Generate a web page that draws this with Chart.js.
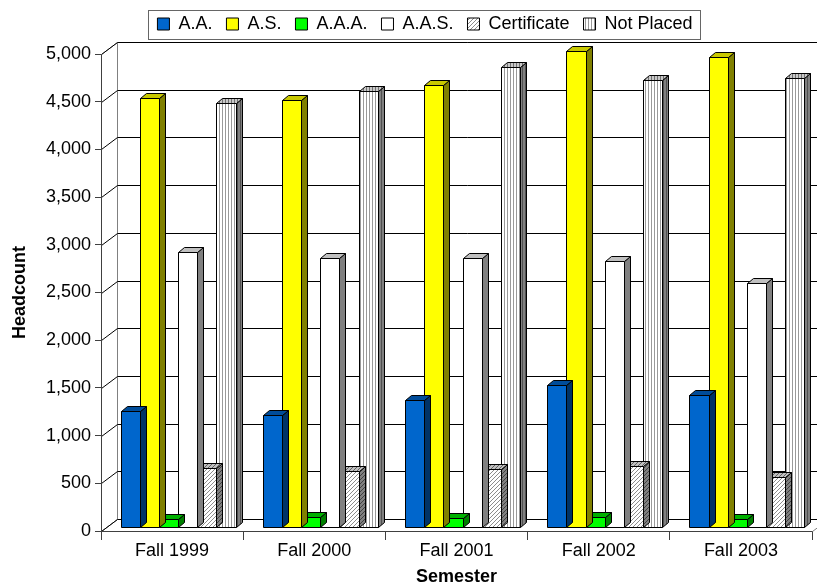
<!DOCTYPE html>
<html>
<head>
<meta charset="utf-8">
<title>Headcount by Semester</title>
<script src="https://cdn.jsdelivr.net/npm/chart.js@4.4.0/dist/chart.umd.min.js"></script>
<style>
  html, body { margin: 0; padding: 0; background: #fff; }
  #wrap { width: 817px; height: 586px; }
</style>
</head>
<body>
<div id="wrap"><canvas id="headcountChart"></canvas></div>
<script>
// data
const semesters = ['Fall 1999', 'Fall 2000', 'Fall 2001', 'Fall 2002', 'Fall 2003'];
const seriesNames = ['A.A.', 'A.S.', 'A.A.A.', 'A.A.S.', 'Certificate', 'Not Placed'];
const aa = [1221, 1176, 1333, 1491, 1379];
const as = [4492, 4474, 4632, 4989, 4929];
const aaa = [87, 102, 95, 102, 81];
const aas = [2887, 2824, 2824, 2789, 2561];
const certificate = [614, 586, 607, 642, 526];
const notPlaced = [4449, 4568, 4824, 4684, 4702];
const yTicks = { min: 0, max: 5000, step: 500 };

// fake 3d geometry (pixels)
const WALL_DX = 16, WALL_DY = -12;   // back wall offset from the front axis
const FACE_DX = 6, FACE_DY = -4;     // where the bar front faces sit
const BAR_DX = 6, BAR_DY = -5;       // bar depth
const LEGEND_CENTER = 425;
const LEGEND_LIFT = 11;

Chart.defaults.font.family = "'Liberation Sans', Arial, sans-serif";
Chart.defaults.color = '#000';

function makePattern(bg, fg, kind) {
  const n = kind === 'diag' ? 4 : 3;
  const c = document.createElement('canvas');
  c.width = n;
  c.height = n;
  const g = c.getContext('2d');
  g.fillStyle = bg;
  g.fillRect(0, 0, n, n);
  g.fillStyle = fg;
  for (let i = 0; i < n; i++) {
    if (kind === 'diag') g.fillRect(i, n - 1 - i, 1, 1);
    else g.fillRect(0, i, 1, 1);
  }
  return g.createPattern(c, 'repeat');
}

const faces = [
  { front: '#0066cc', top: '#004c99', side: '#003366' },
  { front: '#ffff00', top: '#c8c800', side: '#808000' },
  { front: '#00ff00', top: '#00b000', side: '#008000' },
  { front: '#ffffff', top: '#c0c0c0', side: '#808080' },
  {
    front: makePattern('#ffffff', '#8c8c8c', 'diag'),
    top: makePattern('#c0c0c0', '#606060', 'diag'),
    side: makePattern('#808080', '#404040', 'diag')
  },
  {
    front: makePattern('#ffffff', '#999999', 'vert'),
    top: makePattern('#c8c8c8', '#707070', 'vert'),
    side: makePattern('#808080', '#505050', 'vert')
  }
];

function poly(ctx, pts, fill) {
  ctx.beginPath();
  ctx.moveTo(pts[0][0], pts[0][1]);
  for (let i = 1; i < pts.length; i++) ctx.lineTo(pts[i][0], pts[i][1]);
  ctx.closePath();
  if (fill) {
    ctx.fillStyle = fill;
    ctx.fill();
  }
  ctx.stroke();
}

function line(ctx, x1, y1, x2, y2) {
  ctx.beginPath();
  ctx.moveTo(x1, y1);
  ctx.lineTo(x2, y2);
  ctx.stroke();
}

const px = v => Math.round(v) + 0.5;

const fake3d = {
  id: 'fake3d',
  afterLayout(chart) {
    // legend in the original sits right of centre and close to the top
    const lg = chart.legend;
    if (!lg) return;
    const dx = LEGEND_CENTER - (lg.left + lg.right) / 2;
    lg.left += dx;
    lg.right += dx;
    lg.top -= LEGEND_LIFT;
    lg.bottom -= LEGEND_LIFT;
  },
  beforeDatasetsDraw(chart) {
    const { ctx, chartArea } = chart;
    const ys = chart.scales.y;
    const l = px(chartArea.left), r = px(chartArea.right);
    const t = px(chartArea.top), b = px(chartArea.bottom);
    ctx.save();
    ctx.lineWidth = 1;
    ctx.strokeStyle = '#808080';
    // side wall, back wall, floor
    poly(ctx, [[l, b], [l + WALL_DX, b + WALL_DY], [l + WALL_DX, t + WALL_DY], [l, t]], '#fff');
    poly(ctx, [[l + WALL_DX, t + WALL_DY], [r + WALL_DX, t + WALL_DY], [r + WALL_DX, b + WALL_DY], [l + WALL_DX, b + WALL_DY]], '#fff');
    poly(ctx, [[l, b], [r, b], [r + WALL_DX, b + WALL_DY], [l + WALL_DX, b + WALL_DY]], '#fff');
    // gridlines on the walls
    ctx.strokeStyle = '#000';
    ys.ticks.forEach(tk => {
      const y = px(ys.getPixelForValue(tk.value));
      line(ctx, l, y, l + WALL_DX, y + WALL_DY);
      line(ctx, l + WALL_DX, y + WALL_DY, r + WALL_DX, y + WALL_DY);
    });
    // front axis lines
    ctx.strokeStyle = '#404040';
    line(ctx, l, t, l, b);
    line(ctx, l, b, r, b);
    ctx.restore();
  },
  beforeDatasetDraw(chart, args) {
    const { ctx } = chart;
    const style = faces[args.index];
    ctx.save();
    ctx.lineWidth = 1;
    ctx.strokeStyle = '#000';
    args.meta.data.forEach(bar => {
      const { x, y, base, width } = bar.getProps(['x', 'y', 'base', 'width'], true);
      const L = px(x - width / 2 + FACE_DX);
      const R = px(x + width / 2 + FACE_DX);
      const T = px(y + FACE_DY);
      const B = px(base + FACE_DY);
      poly(ctx, [[R, T], [R + BAR_DX, T + BAR_DY], [R + BAR_DX, B + BAR_DY], [R, B]], style.side);
      poly(ctx, [[L, T], [R, T], [R + BAR_DX, T + BAR_DY], [L + BAR_DX, T + BAR_DY]], style.top);
      poly(ctx, [[L, T], [R, T], [R, B], [L, B]], style.front);
    });
    ctx.restore();
    return false;
  },
  afterDraw(chart) {
    const lg = chart.legend;
    if (!lg || !lg.legendHitBoxes.length) return;
    const hb = lg.legendHitBoxes;
    const first = hb[0], last = hb[hb.length - 1];
    const { ctx } = chart;
    ctx.save();
    ctx.strokeStyle = '#666';
    ctx.lineWidth = 1;
    ctx.strokeRect(px(first.left - 9), px(first.top - 5), Math.round(last.left + last.width - first.left + 17), Math.round(first.height + 11));
    ctx.restore();
  }
};

const seriesValues = [aa, as, aaa, aas, certificate, notPlaced];

new Chart(document.getElementById('headcountChart'), {
  type: 'bar',
  data: {
    labels: semesters,
    datasets: seriesNames.map((name, i) => ({
      label: name,
      data: seriesValues[i],
      backgroundColor: faces[i].front,
      borderColor: '#000',
      borderWidth: 1
    }))
  },
  options: {
    responsive: true,
    maintainAspectRatio: false,
    animation: false,
    layout: { padding: { top: 12, right: 5, left: 0, bottom: 0 } },
    datasets: { bar: { barPercentage: 1, categoryPercentage: 0.81 } },
    scales: {
      x: {
        grid: { drawOnChartArea: false, tickLength: 9, color: '#404040', offset: true },
        border: { display: false },
        ticks: { font: { size: 18 }, padding: 0, maxRotation: 0 },
        title: {
          display: true,
          text: 'Semester',
          font: { size: 18, weight: 'bold', lineHeight: 1 },
          padding: { top: 0, bottom: 0 }
        },
        afterFit(scale) { scale.height = 55; }
      },
      y: {
        min: yTicks.min,
        max: yTicks.max,
        ticks: {
          stepSize: yTicks.step,
          font: { size: 18 },
          padding: 4,
          callback: v => v.toLocaleString('en-US')
        },
        grid: { drawOnChartArea: false, tickLength: 6, color: '#404040' },
        border: { display: false },
        title: {
          display: true,
          text: 'Headcount',
          font: { size: 18, weight: 'bold' },
          padding: { top: 9, bottom: 0 }
        },
        afterFit(scale) { scale.width = 101; }
      }
    },
    plugins: {
      legend: {
        position: 'top',
        labels: { boxWidth: 12, boxHeight: 12, padding: 14, font: { size: 18 } }
      },
      tooltip: { enabled: false }
    }
  },
  plugins: [fake3d]
});
</script>
</body>
</html>
